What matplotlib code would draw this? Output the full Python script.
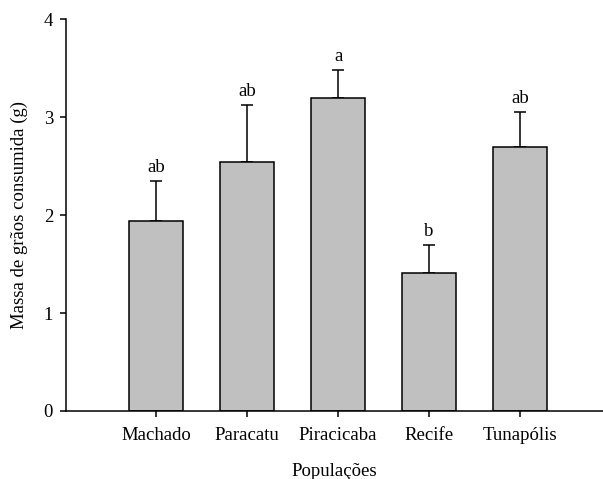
import matplotlib
matplotlib.use("Agg")
import matplotlib.pyplot as plt
import numpy as np

plt.rcParams['font.family'] = ['Liberation Serif', 'DejaVu Serif']

populations = ["Machado", "Paracatu", "Piracicaba", "Recife", "Tunapólis"]
mass = [1.94, 2.54, 3.20, 1.405, 2.69]
error = [0.41, 0.58, 0.28, 0.29, 0.36]
letters = ["ab", "ab", "a", "b", "ab"]

fig = plt.figure(figsize=(6.03, 4.79), dpi=100)
ax = fig.add_axes([0.1095, 0.142, 0.8905, 0.818])

x = np.arange(len(populations))
lower = np.zeros(len(error))
ax.bar(x, mass, width=0.6, color="#c0c0c0", edgecolor="black", linewidth=1.1, zorder=2)
ax.errorbar(x, mass, yerr=[lower, error], fmt="none", ecolor="black",
            elinewidth=1.1, capsize=4, capthick=1.1, zorder=1)

for xi, m, e, lab in zip(x, mass, error, letters):
    ax.annotate(lab, (xi, m + e), xytext=(0, 3.5), textcoords="offset points",
                ha="center", va="bottom", fontsize=13.5)

ax.set_xlim(-0.99, 4.91)
ax.set_ylim(0, 4)
ax.set_yticks([0, 1, 2, 3, 4])
ax.set_xticks(x)
ax.set_xticklabels(populations)

for side in ("top", "right"):
    ax.spines[side].set_visible(False)
for side in ("left", "bottom"):
    ax.spines[side].set_linewidth(1.1)

ax.tick_params(axis="both", direction="out", length=4.3, width=1.1, labelsize=13.5)
ax.tick_params(axis="y", pad=5)
ax.tick_params(axis="x", pad=7)

ax.set_xlabel("Populações", fontsize=13.5, labelpad=14)
ax.set_ylabel("Massa de grãos consumida (g)", fontsize=13.5, labelpad=11)

fig.savefig("out.png", dpi=100)
